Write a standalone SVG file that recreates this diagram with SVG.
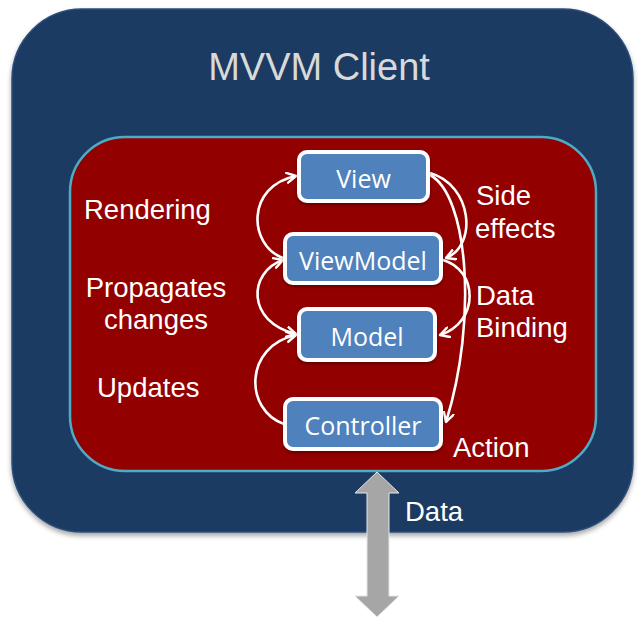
<svg xmlns="http://www.w3.org/2000/svg" width="639" height="618" viewBox="0 0 639 618">
  <defs>
    <filter id="shadow" x="-10%" y="-10%" width="120%" height="125%">
      <feDropShadow dx="0" dy="3" stdDeviation="2.5" flood-color="#000" flood-opacity="0.35"/>
    </filter>
    <filter id="nodeShadow" x="-10%" y="-20%" width="120%" height="150%">
      <feDropShadow dx="0" dy="2" stdDeviation="1.5" flood-color="#000" flood-opacity="0.35"/>
    </filter>
    <marker id="head" viewBox="0 0 12 12" refX="10" refY="6" markerWidth="12" markerHeight="12" markerUnits="userSpaceOnUse" orient="auto-start-reverse">
      <path d="M1,1 L10,6 L1,11" fill="none" stroke="#fff" stroke-width="2.4" stroke-linecap="round" stroke-linejoin="round"/>
    </marker>
  </defs>
  <style>
    .node rect { fill: #4f81bd; stroke: #fff; stroke-width: 4; filter: url(#nodeShadow); }
    .node text { fill: #fff; font-family: "Open Sans", "Liberation Sans", sans-serif; font-size: 25px; text-anchor: middle; }
    .label { fill: #fff; font-family: "Liberation Sans", Arial, sans-serif; font-size: 27.5px; }
    .link { fill: none; stroke: #fff; stroke-width: 2.6; marker-end: url(#head); }
  </style>

  <!-- outer client container -->
  <g id="client">
    <rect x="12" y="9" width="621" height="523" rx="70" ry="70" fill="#1e3a62" stroke="#2c4d7a" stroke-width="1.5" filter="url(#shadow)"/>
    <text x="319" y="80" fill="#d9d9d9" font-family="Liberation Sans, Arial, sans-serif" font-size="38" text-anchor="middle">MVVM Client</text>
  </g>

  <!-- inner red panel -->
  <g id="panel">
    <rect x="70" y="137" width="526" height="334" rx="55" ry="55" fill="#930000" stroke="#4bacc6" stroke-width="2.5"/>
  </g>

  <!-- connectors -->
  <g id="connectors">
    <path class="link" d="M283,258 C248,245 246,186 296,176"/>
    <path class="link" style="marker-start:url(#head)" d="M283,260 C248,272 246,322 296,334"/>
    <path class="link" d="M284,424 C244,410 244,346 296,335"/>
    <path class="link" d="M430,173 C472,185 478,245 446,258"/>
    <path class="link" d="M430,175 C468,195 478,320 446,422"/>
    <path class="link" d="M443,260 C478,270 480,322 440,335"/>
  </g>

  <!-- nodes -->
  <g id="view" class="node">
    <rect x="299" y="152" width="129" height="49" rx="8" ry="8"/>
    <text x="363.5" y="188">View</text>
  </g>
  <g id="viewmodel" class="node">
    <rect x="285" y="234" width="156" height="49" rx="8" ry="8"/>
    <text x="363" y="270">ViewModel</text>
  </g>
  <g id="model" class="node">
    <rect x="299" y="309" width="136" height="51" rx="8" ry="8"/>
    <text x="367" y="346">Model</text>
  </g>
  <g id="controller" class="node">
    <rect x="285" y="399" width="156" height="50" rx="8" ry="8"/>
    <text x="363" y="435">Controller</text>
  </g>

  <!-- connector labels -->
  <g id="labels">
    <text class="label" x="84" y="219">Rendering</text>
    <text class="label" x="156" y="297" text-anchor="middle">Propagates</text>
    <text class="label" x="156" y="329" text-anchor="middle">changes</text>
    <text class="label" x="97" y="397">Updates</text>
    <text class="label" x="476" y="205">Side</text>
    <text class="label" x="475" y="238">effects</text>
    <text class="label" x="476" y="305">Data</text>
    <text class="label" x="476" y="337">Binding</text>
    <text class="label" x="453" y="457">Action</text>
  </g>

  <!-- data in/out arrow -->
  <g id="data">
    <polygon points="377,472 399,493 389,493 389,596 399,596 377,617 355,596 367,596 367,493 355,493" fill="#a6a6a6" stroke="#e6e6e6" stroke-width="1"/>
    <text class="label" x="405" y="521">Data</text>
  </g>
</svg>
